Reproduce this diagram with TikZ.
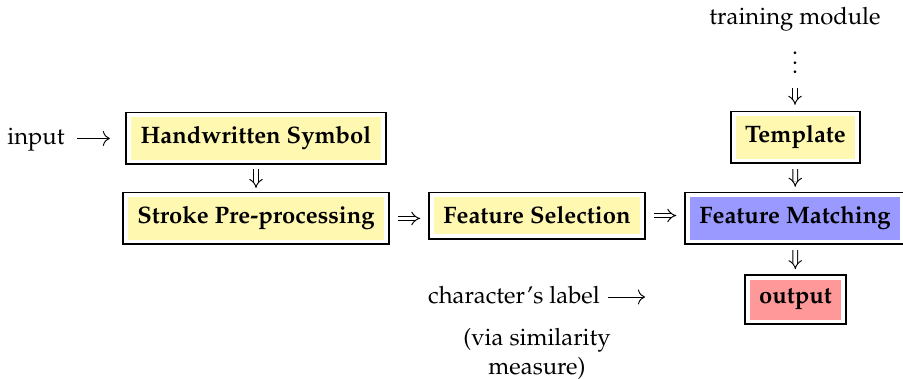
\documentclass[tikz,border=0pt]{standalone}
\usepackage[T1]{fontenc}
\usepackage{mathpazo}
\usetikzlibrary{arrows.meta}
\definecolor{boxyellow}{RGB}{255,248,176}
\definecolor{boxblue}{RGB}{153,153,255}
\definecolor{boxred}{RGB}{255,153,153}
\tikzset{>={To[scale=1.2]}}
\tikzset{
  stage/.style={draw, line width=0.8pt, inner xsep=6pt, inner ysep=6pt, anchor=base, font=\bfseries,
    path picture={\fill[#1] ([shift={(2pt,2pt)}]path picture bounding box.south west)
      rectangle ([shift={(-2pt,-2pt)}]path picture bounding box.north east);}},
  stage/.default=boxyellow,
  imp/.style={double, double distance=1.6pt, line width=0.4pt, -{Implies},
    shorten <=2pt, shorten >=2pt},
  txt/.style={anchor=base}
}

\begin{document}
\begin{tikzpicture}[x=0.42pt, y=-0.42pt]
\useasboundingbox (0,0) rectangle (903,379);
% boxes
\node[stage] (hw) at (256,144) {Handwritten Symbol};
\node[stage] (stroke) at (256,224) {Stroke Pre-processing};
\node[stage] (fs) at (537,224) {Feature Selection};
\node[stage=boxblue] (fm) at (795,224) {Feature Matching};
\node[stage] (tmpl) at (795.5,143) {Template};
\node[stage=boxred] (out) at (795.5,304) {output};
% texts
\node[txt] (input) at (36,145) {input};
\node[txt] (train) at (795,25) {training module};
\node[txt, inner sep=0pt] (dots) at (795,74) {$\vdots$};
\node[txt] (label) at (514,304) {character's label};
\node[align=center] (via) at (537,354) {(via similarity\\measure)};
\coordinate (lblend) at (645,297);
% arrows
\draw[->, shorten <=1.7pt, shorten >=6.5pt] (input.east |- hw.west) -- (hw.west);
\draw[->] (label.east |- lblend) -- (lblend);
\draw[imp, shorten <=1.5pt, shorten >=1.5pt] (hw) -- (stroke);
\draw[imp, shorten <=3.3pt, shorten >=3.3pt] (stroke.east) -- (stroke.east -| fs.west);
\draw[imp, shorten <=3.3pt, shorten >=3.3pt] (fs.east) -- (fs.east -| fm.west);
\draw[imp, shorten <=5.6pt, shorten >=2.4pt] (dots.south) -- (dots.south |- tmpl.north);
\draw[imp] (tmpl) -- (fm);
\draw[imp] (fm) -- (out);
\end{tikzpicture}
\end{document}
